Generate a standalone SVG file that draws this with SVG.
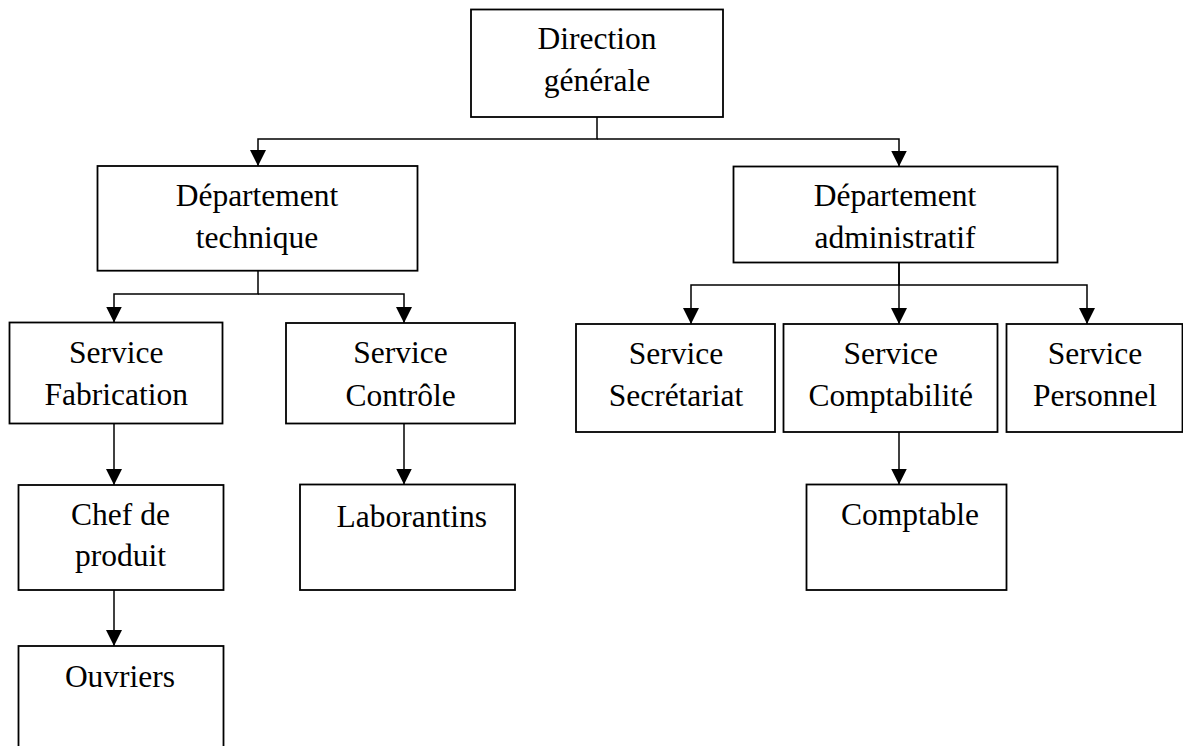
<svg xmlns="http://www.w3.org/2000/svg" width="1183" height="746" viewBox="0 0 1183 746">
<style>
.box{fill:#fff;stroke:#000;stroke-width:1.8}
.lbl{font-family:"Liberation Serif","Times New Roman",serif;font-size:31.5px;fill:#000;text-anchor:middle}
.con{fill:none;stroke:#000;stroke-width:1.5}
</style>
<defs>
<marker id="arr" markerUnits="userSpaceOnUse" markerWidth="16" markerHeight="16" viewBox="0 0 16 16" refX="16" refY="8" orient="auto">
<path d="M0,0 L16,8 L0,16 z" fill="#000"/>
</marker>
</defs>
<rect width="1183" height="746" fill="#fff"/>
<g id="connectors">
<path class="con" d="M597,117 V139 H258 V166" marker-end="url(#arr)"/>
<path class="con" d="M597,139 H899 V166.5" marker-end="url(#arr)"/>
<path class="con" d="M258,270.7 V294 H114 V322.5" marker-end="url(#arr)"/>
<path class="con" d="M258,294 H404 V323" marker-end="url(#arr)"/>
<path class="con" d="M899,262.5 V285 H691 V324" marker-end="url(#arr)"/>
<path class="con" d="M899,262.5 V324" marker-end="url(#arr)"/>
<path class="con" d="M899,285 H1087 V324" marker-end="url(#arr)"/>
<path class="con" d="M114,423.5 V485" marker-end="url(#arr)"/>
<path class="con" d="M114,590 V646" marker-end="url(#arr)"/>
<path class="con" d="M404,423.5 V484.5" marker-end="url(#arr)"/>
<path class="con" d="M899,432 V484.5" marker-end="url(#arr)"/>
</g>
<g id="direction">
<rect class="box" x="471" y="9.5" width="252" height="107.5"/>
<text class="lbl" x="597" y="49">Direction</text>
<text class="lbl" x="597" y="90.7">générale</text>
</g>
<g id="dept-technique">
<rect class="box" x="97.5" y="166" width="320" height="104.7"/>
<text class="lbl" x="257" y="206">Département</text>
<text class="lbl" x="257" y="248">technique</text>
</g>
<g id="dept-administratif">
<rect class="box" x="733.5" y="166.5" width="324" height="96"/>
<text class="lbl" x="895" y="206">Département</text>
<text class="lbl" x="895" y="248">administratif</text>
</g>
<g id="service-fabrication">
<rect class="box" x="9.5" y="322.5" width="213" height="101"/>
<text class="lbl" x="116.3" y="363.3">Service</text>
<text class="lbl" x="116.3" y="405">Fabrication</text>
</g>
<g id="service-controle">
<rect class="box" x="286" y="323" width="229" height="100.5"/>
<text class="lbl" x="400.5" y="363.3">Service</text>
<text class="lbl" x="400.5" y="406">Contrôle</text>
</g>
<g id="service-secretariat">
<rect class="box" x="576" y="324" width="199" height="108"/>
<text class="lbl" x="676" y="364">Service</text>
<text class="lbl" x="676" y="406">Secrétariat</text>
</g>
<g id="service-comptabilite">
<rect class="box" x="783.5" y="324" width="214" height="108"/>
<text class="lbl" x="890.7" y="364">Service</text>
<text class="lbl" x="890.7" y="406">Comptabilité</text>
</g>
<g id="service-personnel">
<rect class="box" x="1006.5" y="324" width="176" height="108"/>
<text class="lbl" x="1095" y="364">Service</text>
<text class="lbl" x="1095" y="406">Personnel</text>
</g>
<g id="chef-de-produit">
<rect class="box" x="18.5" y="485" width="205" height="105"/>
<text class="lbl" x="120.5" y="525">Chef de</text>
<text class="lbl" x="120.5" y="565.7">produit</text>
</g>
<g id="laborantins">
<rect class="box" x="300" y="484.5" width="215" height="105.5"/>
<text class="lbl" x="411.7" y="526.7">Laborantins</text>
</g>
<g id="comptable">
<rect class="box" x="806.5" y="484.5" width="200" height="105.5"/>
<text class="lbl" x="910" y="525">Comptable</text>
</g>
<g id="ouvriers">
<rect class="box" x="18.5" y="646" width="205" height="120"/>
<text class="lbl" x="120" y="686.7">Ouvriers</text>
</g>
</svg>
